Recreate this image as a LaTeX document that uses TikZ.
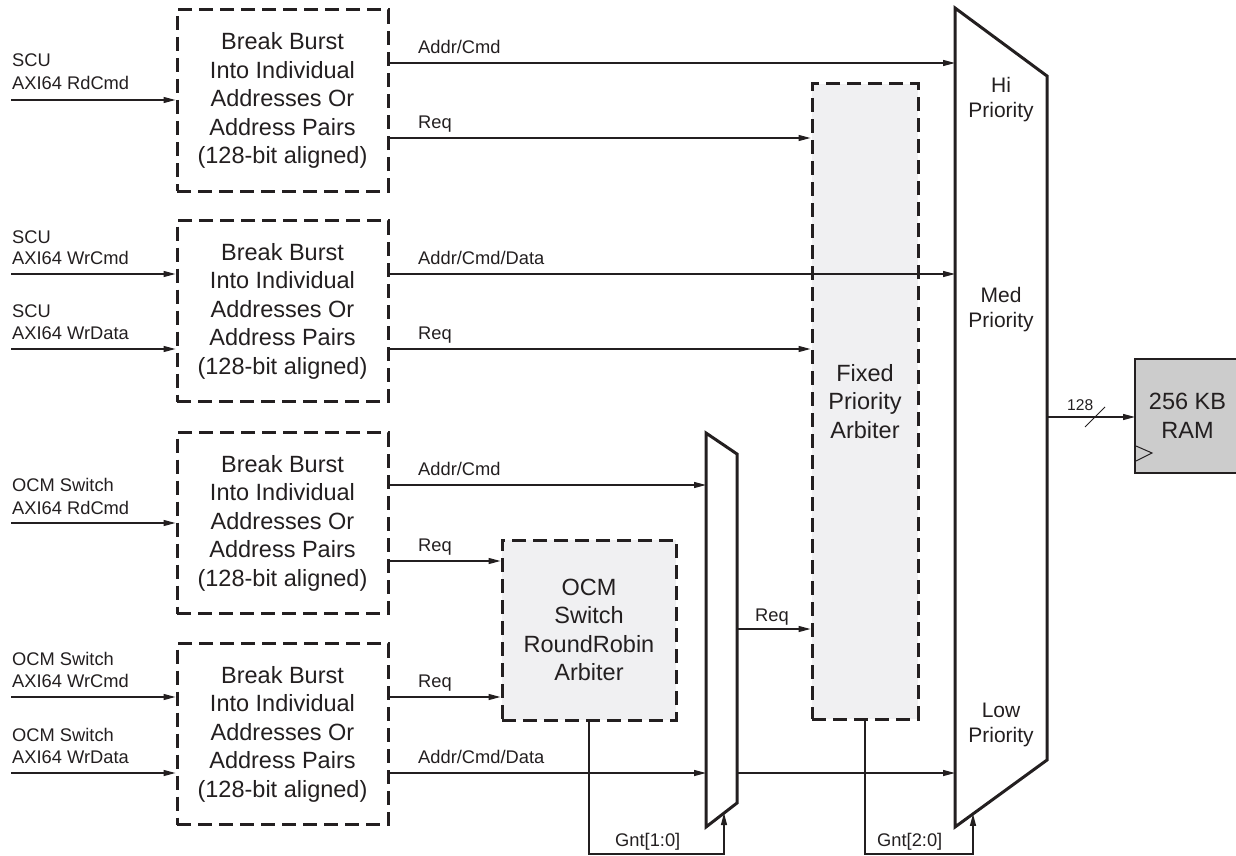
\documentclass[tikz,border=0pt]{standalone}
\usepackage{fontspec}
\setmainfont{Liberation Sans}
\usetikzlibrary{arrows.meta,calc}
\definecolor{ink}{RGB}{35,31,32}
\definecolor{arbfill}{RGB}{240,240,242}
\definecolor{ramfill}{RGB}{204,204,204}
\tikzset{
  bigtxt/.style={font=\fontsize{23.5}{28.5}\selectfont, text=ink},
  smalltxt/.style={font=\fontsize{18.3}{22}\selectfont, text=ink, inner sep=0pt},
  priotxt/.style={font=\fontsize{21}{25}\selectfont, text=ink, align=center, inner sep=0pt},
  burst/.style={draw=ink, line width=3pt, dash pattern=on 14pt off 7pt, minimum width=211pt, minimum height=181pt, align=center, bigtxt, inner sep=0pt},
  arb/.style={burst, fill=arbfill},
  conn/.style={draw=ink, line width=1.3pt},
  arr/.style={conn, -{Triangle[length=12pt,width=6pt]}},
  mux/.style={draw=ink, line width=3pt, line join=miter},
}
\begin{document}
\begin{tikzpicture}[x=1pt,y=-1pt]
\useasboundingbox (0,0) rectangle (1236,856);

% Break burst blocks
\node[burst] (b1) at (282.5,100.5) {Break Burst\\Into Individual\\Addresses Or\\Address Pairs\\(128-bit aligned)};
\node[burst] (b2) at (282.5,311) {Break Burst\\Into Individual\\Addresses Or\\Address Pairs\\(128-bit aligned)};
\node[burst] (b3) at (282.5,523) {Break Burst\\Into Individual\\Addresses Or\\Address Pairs\\(128-bit aligned)};
\node[burst] (b4) at (282.5,734) {Break Burst\\Into Individual\\Addresses Or\\Address Pairs\\(128-bit aligned)};

% Arbiters
\node[arb, minimum width=106pt, minimum height=635pt] (fpa) at (865,401.5) {Fixed\\Priority\\Arbiter};
\node[arb, minimum width=174pt, minimum height=180pt] (ocm) at (589,630) {OCM\\Switch\\RoundRobin\\Arbiter};

% RAM
\node[draw=ink, fill=ramfill, line width=2.5pt, outer sep=0pt, minimum width=105pt, minimum height=114pt, anchor=north west, bigtxt, align=center] (ram) at (1135,359) {256 KB\\RAM};
\draw[ink, line width=1pt] ([shift={(1,-27)}]ram.south west) -- ([shift={(17,-20)}]ram.south west) -- ([shift={(1,-12)}]ram.south west);

% Muxes
\coordinate (bmNW) at (955,8);
\coordinate (bmNE) at (1047,76);
\coordinate (bmSE) at (1047,760);
\coordinate (bmSW) at (955,827);
\draw[mux] (bmNW) -- (bmNE) -- (bmSE) -- (bmSW) -- cycle;
\coordinate (smNW) at (706,433);
\coordinate (smNE) at (737,454);
\coordinate (smSE) at (737,803);
\coordinate (smSW) at (706,827);
\draw[mux] (smNW) -- (smNE) -- (smSE) -- (smSW) -- cycle;

\node[priotxt] (hi) at (1001,100) {Hi\\Priority};
\node[priotxt] (med) at (1001,310) {Med\\Priority};
\node[priotxt] (low) at (1001,725) {Low\\Priority};

% Inputs
\coordinate (in1) at (11,100);
\coordinate (in2) at (11,274);
\coordinate (in3) at (11,349);
\coordinate (in4) at (11,523);
\coordinate (in5) at (11,697);
\coordinate (in6) at (11,773);
\draw[arr] (in1) -- (b1.west |- in1);
\draw[arr] (in2) -- (b2.west |- in2);
\draw[arr] (in3) -- (b2.west |- in3);
\draw[arr] (in4) -- (b3.west |- in4);
\draw[arr] (in5) -- (b4.west |- in5);
\draw[arr] (in6) -- (b4.west |- in6);
\node[smalltxt, anchor=base west] (t1a) at (12,67) {SCU};
\node[smalltxt, anchor=base west] (t1b) at (12,90) {AXI64 RdCmd};
\node[smalltxt, anchor=base west] (t2a) at (12,243) {SCU};
\node[smalltxt, anchor=base west] (t2b) at (12,264) {AXI64 WrCmd};
\node[smalltxt, anchor=base west] (t3a) at (12,317) {SCU};
\node[smalltxt, anchor=base west] (t3b) at (12,339) {AXI64 WrData};
\node[smalltxt, anchor=base west] (t4a) at (12,491) {OCM Switch};
\node[smalltxt, anchor=base west] (t4b) at (12,514) {AXI64 RdCmd};
\node[smalltxt, anchor=base west] (t5a) at (12,665) {OCM Switch};
\node[smalltxt, anchor=base west] (t5b) at (12,687) {AXI64 WrCmd};
\node[smalltxt, anchor=base west] (t6a) at (12,741) {OCM Switch};
\node[smalltxt, anchor=base west] (t6b) at (12,763) {AXI64 WrData};

% Block outputs
\draw[arr] (b1.east |- 0,63) -- (bmNW |- 0,63);
\draw[arr] (b1.east |- 0,138) -- (fpa.west |- 0,138);
\draw[arr] (b2.east |- 0,274) -- (bmNW |- 0,274);
\draw[arr] (b2.east |- 0,349) -- (fpa.west |- 0,349);
\draw[arr] (b3.east |- 0,485) -- (smNW |- 0,485);
\draw[arr] (b3.east |- 0,561) -- (ocm.west |- 0,561);
\draw[arr] (b4.east |- 0,697) -- (ocm.west |- 0,697);
\draw[arr] (b4.east |- 0,773) -- (smNW |- 0,773);
\node[smalltxt, anchor=base west] (o1) at (418,53.5) {Addr/Cmd};
\node[smalltxt, anchor=base west] (o2) at (418,128.5) {Req};
\node[smalltxt, anchor=base west] (o3) at (418,264.5) {Addr/Cmd/Data};
\node[smalltxt, anchor=base west] (o4) at (418,339.5) {Req};
\node[smalltxt, anchor=base west] (o5) at (418,475.5) {Addr/Cmd};
\node[smalltxt, anchor=base west] (o6) at (418,551.5) {Req};
\node[smalltxt, anchor=base west] (o7) at (418,687.5) {Req};
\node[smalltxt, anchor=base west] (o8) at (418,763.5) {Addr/Cmd/Data};

% Small mux outputs
\draw[arr] (smNE |- 0,629) -- (fpa.west |- 0,629);
\node[smalltxt, anchor=base west] (o9) at (755,621) {Req};
\draw[arr] (smNE |- 0,773) -- (bmNW |- 0,773);

% Big mux output
\draw[arr] (bmNE |- 0,417) -- (ram.west |- 0,417);
\node[smalltxt, font=\fontsize{15.6}{18}\selectfont, anchor=base west] (bus) at (1067,410) {128};
\draw[conn, line width=1pt] (1085,427) -- (1105,407);

% Grant lines
\coordinate (smG) at ($(smSW)!18/31!(smSE)$);
\coordinate (bmG) at ($(bmSW)!18/92!(bmSE)$);
\draw[arr] (ocm.south) -- (ocm.south |- 0,854) -| (smG);
\draw[arr] (fpa.south) -- (fpa.south |- 0,854) -| (bmG);
\node[smalltxt, anchor=base west] (g1) at (615,846) {Gnt[1:0]};
\node[smalltxt, anchor=base west] (g2) at (877,846) {Gnt[2:0]};
\end{tikzpicture}
\end{document}
